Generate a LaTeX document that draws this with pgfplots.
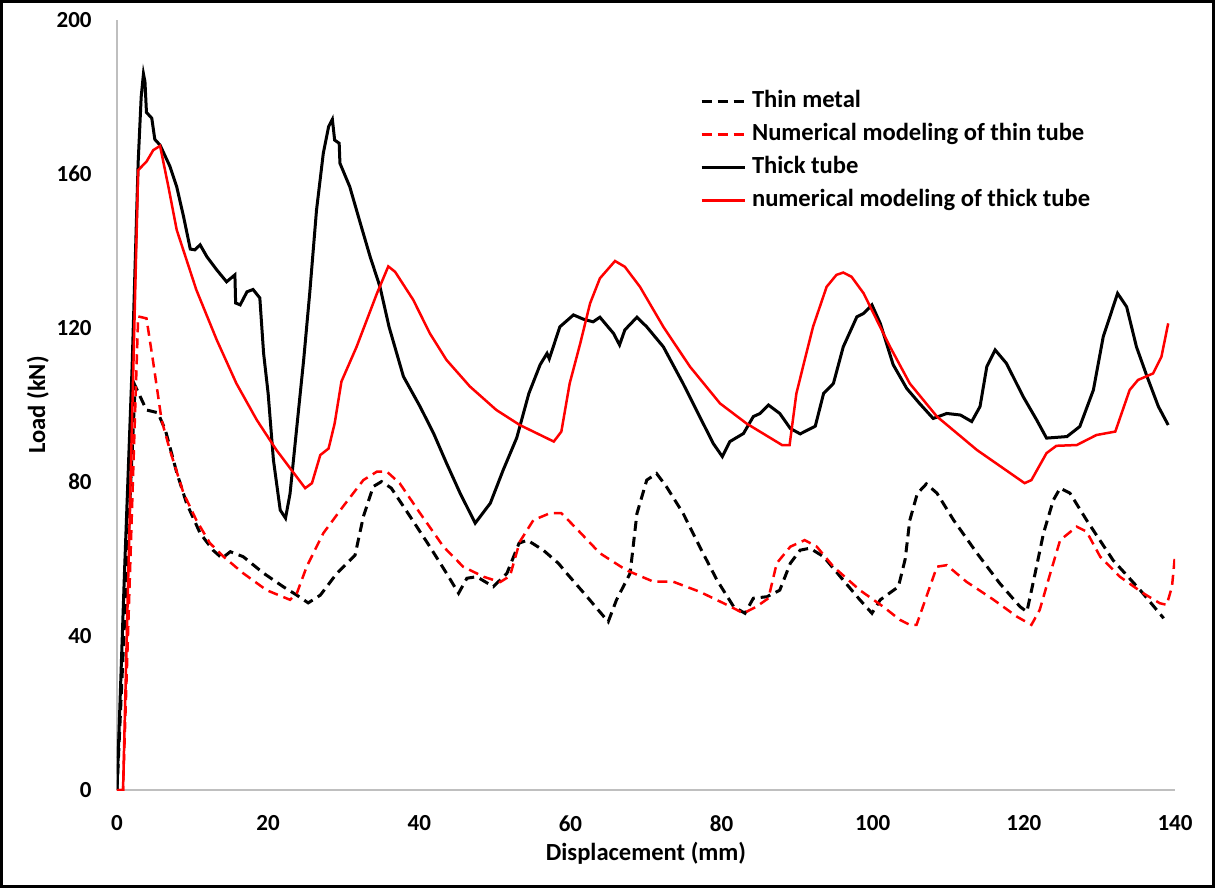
\documentclass[border=0pt]{standalone}
\usepackage{fontspec}
\setmainfont{Carlito}
\usepackage{pgfplots}
\pgfplotsset{compat=1.18}
\newcommand{\lf}{\fontsize{11.5bp}{13.8bp}\selectfont\bfseries}
\newcommand{\bigf}{\fontsize{12.3bp}{14.5bp}\selectfont\bfseries}
\begin{document}
\lf
\begin{tikzpicture}
\begin{axis}[
  scale only axis, width=529bp, height=385bp,
  xmin=0, xmax=140, ymin=0, ymax=200,
  axis x line=bottom, axis y line=left,
  axis line style={-, draw=black!25, line width=1bp},
  xtick={0,20,...,140}, ytick={0,40,...,200},
  major tick length=0pt,
  /pgf/number format/assume math mode=true,
  ticklabel style={font=\lf, inner sep=0pt},
  yticklabel style={anchor=east, xshift=-12.5bp},
  xticklabel style={anchor=north, yshift=-12.5bp},
  xlabel={Displacement (mm)}, ylabel={Load (kN)},
  xlabel style={at={(axis description cs:0.5,-0.0818)}, anchor=center, font=\bigf},
  ylabel style={at={(axis description cs:-0.0747,0.5)}, anchor=center, font=\bigf},
  legend style={at={(axis cs:77.1,182)}, anchor=north west, draw=none, fill=none, inner sep=0pt,
    font=\bigf, row sep=5.2bp, nodes={text height=8.8bp, text depth=2.6bp, inner ysep=0pt, inner xsep=3bp}},
  legend cell align=left,
  legend image code/.code={\draw[#1] (0bp,0bp) -- (21.5bp,0bp);},
]
\addplot[black, line width=1.5bp, dash pattern=on 5bp off 3bp] coordinates {
(0,0)(2.4,105)(3.9,98.7)(5.4,98)(6.4,93.5)(7.9,82.5)(9.2,74.5)(11,66.7)(12.7,62.3)(13.9,60.2)(15,61.9)(16.7,60.6)(19.4,56.3)(22,52.8)(23.8,50.6)(25.3,48.6)(26.9,50.6)(29.1,56.3)(31.5,61)(32.6,71)(33.9,78.8)(35,80.1)(36.3,78.4)(38.8,71)(41.4,63.2)(43.6,56.3)(45.2,51.1)(46.3,55)(47.6,55.4)(49.8,52.8)(51.6,56.3)(53.2,64.1)(54.3,64.9)(56.4,62.3)(58.4,58.9)(59.5,56.3)(62.2,50.2)(65,43.7)(66.1,49.4)(67.9,56.3)(68.8,71.8)(70.1,80.5)(71.4,82.2)(72.7,78.8)(74.9,71.9)(77.1,63.2)(79.4,54.5)(81.6,47.6)(83.1,45.9)(84.2,49.8)(86,50.2)(87.7,51.9)(89.1,58.9)(90.4,62.3)(91.7,62.8)(93.5,60.6)(96.1,54.5)(98.3,49.4)(99.9,45.9)(101,49.4)(103.4,52.8)(104.3,60)(104.9,70)(105.9,77)(107.1,79.5)(108.5,77.1)(110.7,70.1)(113.8,61.5)(116.8,53.7)(119.5,47.6)(120.4,46.3)(121.3,54.5)(122.6,66.7)(123.9,75.3)(124.8,78.4)(126.1,77.1)(128.3,70.1)(131.8,59.7)(135.4,51.9)(138.5,44.6)
};
\addlegendentry{Thin metal}
\addplot[red, line width=1.25bp, dash pattern=on 5bp off 3bp] coordinates {
(0,0)(0.8,0)(2.8,123)(3.9,122.5)(4.8,111)(5.9,96.1)(7,88.3)(8.8,77.1)(10.5,70.1)(12.3,64.1)(14.1,60.6)(16.7,56.3)(19.8,51.9)(22.9,49.4)(23.8,51.1)(25.1,58)(27.3,66.7)(29.9,73.6)(32.6,80.5)(34.4,82.7)(35.7,82.7)(37.4,79.7)(40.1,71.9)(43.2,63.2)(45.8,58)(48.5,55.4)(50.7,54)(52,55.6)(53.3,64.5)(55.1,70.1)(57.3,71.9)(58.8,71.9)(60.8,67.9)(63.9,61.5)(67.4,57.1)(71,54.1)(73.6,54.1)(77.1,51.5)(80.7,48.1)(82.9,45.9)(84.6,47.6)(86.2,49.8)(87.3,58.9)(89.1,63.2)(91,64.9)(92.6,63.2)(94.8,58)(98.3,51.9)(101.4,47.6)(103.6,44.2)(104.9,42.9)(105.8,42.9)(107.1,50.2)(108.5,58)(109.8,58.4)(112.4,54.1)(116,49.4)(119.1,45)(121,42.9)(122.1,46.8)(123.5,56.3)(124.8,64.9)(127,68.4)(128.3,67.1)(130.1,60.6)(132.7,55.4)(135.8,51.1)(138,48.5)(138.9,48.1)(139.6,52.8)(140,61)
};
\addlegendentry{Numerical modeling of thin tube}
\addplot[black, line width=1.5bp] coordinates {
(0,0)(1.0,57)(2.0,110)(2.8,163)(3.2,180)(3.5,186)(3.7,184)(3.9,176)(4.6,174.5)(5.0,169)(5.7,167.5)(7.0,162)(7.9,156.7)(8.8,149)(9.7,140.5)(10.3,140.3)(11.0,141.6)(11.9,138.5)(13.2,135.1)(14.5,132)(15.6,133.8)(15.7,126.5)(16.3,126)(17.2,129.4)(18.0,130.0)(18.9,127.8)(19.4,113.4)(20.0,103)(20.7,85.7)(21.6,72.7)(22.3,70.6)(22.9,77)(23.8,94.4)(24.7,111.7)(25.5,129)(26.4,150.6)(27.3,165.4)(28.0,172.3)(28.5,174.2)(28.8,168.8)(29.4,168)(29.5,162.8)(30.8,156.7)(32.2,147.2)(33.5,138.5)(34.8,130.7)(36.0,120.3)(37.9,107.4)(40.1,99.6)(41.9,92.6)(43.6,84.9)(45.4,77.1)(47.4,69.3)(49.4,74.5)(51.1,83.1)(52.9,91.5)(54.5,103)(56.0,110.5)(56.9,113.4)(57.2,112)(58.6,120.3)(60.4,123.4)(61.7,122.3)(63.0,121.6)(63.9,122.8)(65.7,118.6)(66.5,115.6)(67.2,119.5)(68.8,122.8)(70.1,120.3)(72.3,115.1)(74.9,105.6)(77.1,97)(78.9,90.0)(80.1,86.6)(81.1,90.5)(82.9,92.6)(84.2,97)(85.1,97.8)(86.2,100)(87.7,97.8)(89.1,93.9)(90.4,92.5)(92.4,94.5)(93.5,103)(94.8,105.6)(96.1,115.1)(97.9,122.9)(98.8,123.8)(99.9,126)(101,121.2)(102.7,110.5)(104.5,104.3)(106.2,100.4)(108.0,96.5)(109.8,97.8)(111.6,97.4)(113.1,95.7)(114.2,99.6)(115.1,110)(116.2,114.3)(117.7,110.8)(119.9,102.2)(121.7,96.1)(123,91.4)(125.7,91.8)(127.4,94.4)(129.2,103.9)(130.5,117.7)(132.4,129)(133.6,125.5)(134.9,115.1)(136.3,107.4)(137.8,99.6)(139.1,94.8)
};
\addlegendentry{Thick tube}
\addplot[red, line width=1.25bp] coordinates {
(0,0)(0.8,0)(2.8,161)(3.9,163.2)(4.8,166.2)(5.7,167.3)(6.8,156.7)(7.9,145.5)(10.5,129.9)(13.2,116.9)(15.8,105.6)(18.5,96.1)(21.1,88.3)(24.9,78.4)(25.8,79.7)(26.9,87)(28.0,88.7)(28.8,95.2)(29.7,106.1)(31.7,115.1)(34.4,129)(35.9,136)(36.8,134.6)(39.2,127.3)(41.4,118.6)(43.6,111.7)(46.7,104.8)(50.2,98.7)(53.3,94.8)(57.8,90.5)(58.8,93.1)(59.9,105.6)(61.3,116)(62.6,126.4)(63.9,132.9)(65.9,137.4)(67.2,135.9)(69.2,130.7)(72.3,120.3)(75.8,110)(79.8,100.4)(83.3,95.2)(88,89.6)(89,89.6)(89.9,103)(91,111.7)(92.1,120.3)(93.9,130.7)(95.2,133.8)(96.1,134.4)(97.2,133.3)(98.8,129)(100.1,123.8)(102.3,115.1)(104.9,105.6)(108.5,97)(113.8,88.3)(120.1,79.7)(121,80.5)(123,87.5)(124.3,89.4)(127,89.6)(129.6,92.2)(132.1,93.1)(134,103.9)(135.1,106.5)(137.1,108.2)(138.2,112.5)(139.1,121.2)
};
\addlegendentry{numerical modeling of thick tube}
\coordinate (ll) at (rel axis cs:0,0);
\coordinate (ur) at (rel axis cs:1,1);
\end{axis}
\draw[line width=1.5bp] ([shift={(-57.75bp,-48.25bp)}]ll) rectangle ([shift={(19.25bp,9.25bp)}]ur);
\end{tikzpicture}
\end{document}
